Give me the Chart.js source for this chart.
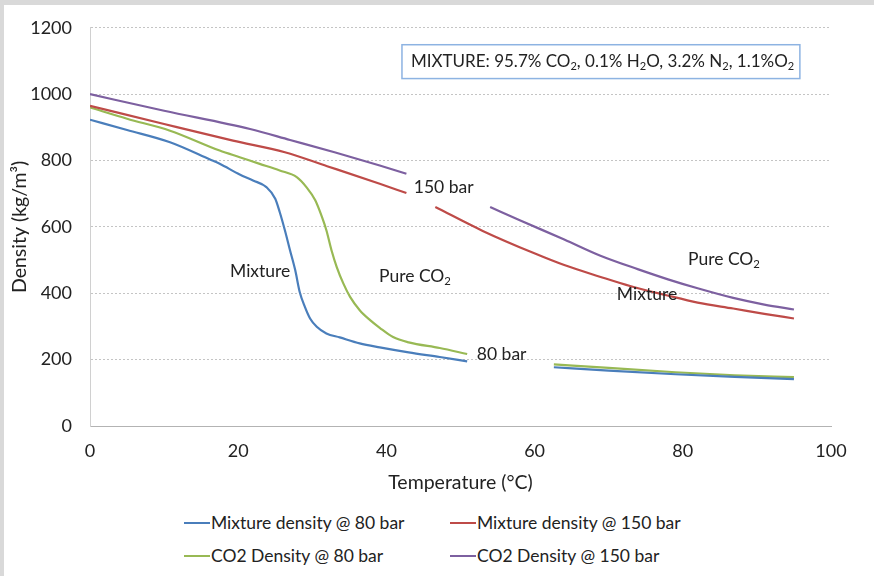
<!DOCTYPE html>
<html>
<head>
<meta charset="utf-8">
<script src="https://cdn.jsdelivr.net/npm/chart.js@4/dist/chart.umd.min.js"></script>
<style>
    body { margin: 0; background: #d9d9d9; font-family: Lato, sans-serif; }
    #panel { position: absolute; left: 4px; top: 5px; width: 870px; height: 571px; background: #fff; overflow: hidden; }
    #wrap { position: absolute; left: 0; top: -6px; width: 870px; height: 506px; }
    #legend { position: absolute; left: 180px; top: 507px; display: grid; grid-template-columns: 266px 260px; row-gap: 12px; }
    .item { display: flex; align-items: center; font-size: 17.5px; color: #222; height: 21px; white-space: nowrap; }
    .item span.line { display: inline-block; width: 26px; height: 2px; margin-right: 1px; }
</style>
</head>
<body>
<div id="panel">
    <div id="wrap"><canvas id="densityChart"></canvas></div>
    <div id="legend"></div>
</div>
<script>
// Temperature (°C) / density (kg/m3), null = gap for a label
const mix80T = [0, 5, 10.8, 16.2, 17.5, 20.2, 22, 23.8, 25, 25.6, 26.3, 27, 27.7, 28.3, 29, 29.7, 30.6, 31.9, 33.7, 36.4, 39.1, 43, 47.2, 50.9, 57, 62.6, 70, 79, 87, 95];
const mix80 = [923, 892, 855, 803, 790, 758, 740, 720, 685, 645, 590, 529, 469, 404, 359, 324, 299, 279, 267, 249, 237, 222, 208, 195, null, 177, 167, 156, 148, 141];

const co2_80T = [0, 5, 10.8, 17.5, 20.2, 22.9, 25.6, 27.9, 29.2, 30.4, 31.3, 31.9, 32.6, 33.3, 34.2, 35.1, 36.4, 37.8, 39.1, 40.9, 43, 47.2, 50.9, 57, 62.6, 70, 79, 87, 95];
const co2_80 = [960, 926, 890, 830, 810, 790, 770, 750, 720, 680, 630, 590, 529, 479, 429, 389, 349, 319, 296, 268, 252, 235, 217, null, 186, 175, 162, 153, 147];

const mix150T = [0, 10, 19.3, 26.3, 32, 39.1, 42.7, 44.5, 46.6, 53, 59.8, 64, 68.8, 73, 77.8, 82, 86.8, 91, 95];
const mix150 = [965, 910, 860, 825, 783, 730, 702, null, 660, 588, 522, 485, 450, 421, 394, 372, 354, 338, 324];

const co2_150T = [0, 10, 21.6, 27, 33, 39.1, 42.7, 48, 54, 58, 64, 68.8, 74, 78, 82, 86.8, 91, 95];
const co2_150 = [1000, 950, 895, 862, 825, 785, 760, null, 660, 620, 562, 514, 472, 442, 415, 386, 366, 351];

const seriesNames = ['Mixture density @ 80 bar', 'Mixture density @ 150 bar', 'CO2 Density @ 80 bar', 'CO2 Density @ 150 bar'];
const seriesColors = ['#4a7ebb', '#be4b48', '#98b954', '#7d60a0'];

const xTicks = [0, 20, 40, 60, 80, 100];
const yTicks = [0, 200, 400, 600, 800, 1000, 1200];

// text labels inside the plot, anchored at (temperature, density); "_2" = subscript
const notes = [
    { text: '150 bar', t: 43.7, d: 719 },
    { text: '80 bar', t: 52.2, d: 216 },
    { text: 'Mixture', t: 18.9, d: 466 },
    { text: 'Pure CO_2', t: 39.0, d: 451 },
    { text: 'Pure CO_2', t: 80.7, d: 502 },
    { text: 'Mixture', t: 71.1, d: 397 }
];
const boxText = 'MIXTURE: 95.7% CO_2, 0.1% H_2O, 3.2% N_2, 1.1%O_2';
const boxRange = { t0: 42.1, t1: 95.8, d0: 1047, d1: 1149 };

function toPoints(xs, ys) {
    return xs.map((x, i) => ({ x: x, y: ys[i] }));
}

// draw a string with "_x" subscripts, left aligned, vertically centred at y
function drawRich(ctx, str, x, y, size) {
    const parts = str.split(/_(.)/);
    ctx.textBaseline = 'middle';
    ctx.textAlign = 'left';
    parts.forEach((p, i) => {
        const sub = i % 2 === 1;
        ctx.font = (sub ? size * 0.65 : size) + 'px Lato';
        ctx.fillText(p, x, sub ? y + size * 0.3 : y);
        x += ctx.measureText(p).width;
    });
    return x;
}

const notesPlugin = {
    id: 'notes',
    afterDatasetsDraw(chart) {
        const ctx = chart.ctx;
        const xs = chart.scales.x, ys = chart.scales.y;
        ctx.save();
        ctx.fillStyle = '#222';
        notes.forEach(n => drawRich(ctx, n.text, xs.getPixelForValue(n.t), ys.getPixelForValue(n.d), 17.5));

        const bx = xs.getPixelForValue(boxRange.t0), bx2 = xs.getPixelForValue(boxRange.t1);
        const by = ys.getPixelForValue(boxRange.d1), by2 = ys.getPixelForValue(boxRange.d0);
        ctx.fillStyle = '#fff';
        ctx.fillRect(bx, by, bx2 - bx, by2 - by);
        ctx.strokeStyle = '#8db3e2';
        ctx.lineWidth = 1.5;
        ctx.strokeRect(bx, by, bx2 - bx, by2 - by);
        ctx.fillStyle = '#222';
        drawRich(ctx, boxText, bx + 9, (by + by2) / 2, 17);
        ctx.restore();
    }
};

const allX = [mix80T, mix150T, co2_80T, co2_150T];
const allY = [mix80, mix150, co2_80, co2_150];

const ctx = document.getElementById('densityChart').getContext('2d');
const chart = new Chart(ctx, {
    type: 'line',
    data: {
        datasets: seriesNames.map((name, i) => ({
            label: name,
            data: toPoints(allX[i], allY[i]),
            borderColor: seriesColors[i],
            backgroundColor: seriesColors[i],
            borderWidth: 2.2,
            pointRadius: 0,
            cubicInterpolationMode: 'monotone',
            spanGaps: false,
            fill: false
        }))
    },
    options: {
        responsive: true,
        maintainAspectRatio: false,
        animation: false,
        layout: { padding: { left: 0, right: 43, top: 16, bottom: 0 } },
        plugins: { legend: { display: false }, tooltip: { enabled: false } },
        scales: {
            x: {
                type: 'linear', min: 0, max: 100,
                afterBuildTicks: s => { s.ticks = xTicks.map(v => ({ value: v })); },
                afterFit: s => { s.height = 79; },
                grid: { display: false, drawTicks: false },
                border: { display: true, color: '#b3b3b3', width: 1 },
                ticks: { padding: 14, color: '#222', font: { family: 'Lato', size: 18 }, callback: v => String(v) },
                title: { display: true, text: 'Temperature (°C)', color: '#222', padding: { top: 0, bottom: 11 }, font: { family: 'Lato', size: 19.5 } }
            },
            y: {
                min: 0, max: 1200,
                afterBuildTicks: s => { s.ticks = yTicks.map(v => ({ value: v })); },
                afterFit: s => { s.width = 86; },
                grid: { color: '#c4c4c4', drawTicks: false },
                border: { display: true, color: '#d0d0d0', width: 1, dash: [2, 2] },
                ticks: { padding: 18, color: '#222', font: { family: 'Lato', size: 18 }, callback: v => String(v) },
                title: { display: true, text: 'Density (kg/m³)', color: '#222', padding: { top: 4, bottom: 0 }, font: { family: 'Lato', size: 19.5 } }
            }
        }
    },
    plugins: [notesPlugin]
});

// legend in two columns like the original
const legendEl = document.getElementById('legend');
chart.data.datasets.forEach(ds => {
    const item = document.createElement('div');
    item.className = 'item';
    item.innerHTML = `<span class="line" style="background:${ds.borderColor}"></span>${ds.label}`;
    legendEl.appendChild(item);
});
</script>
</body>
</html>
